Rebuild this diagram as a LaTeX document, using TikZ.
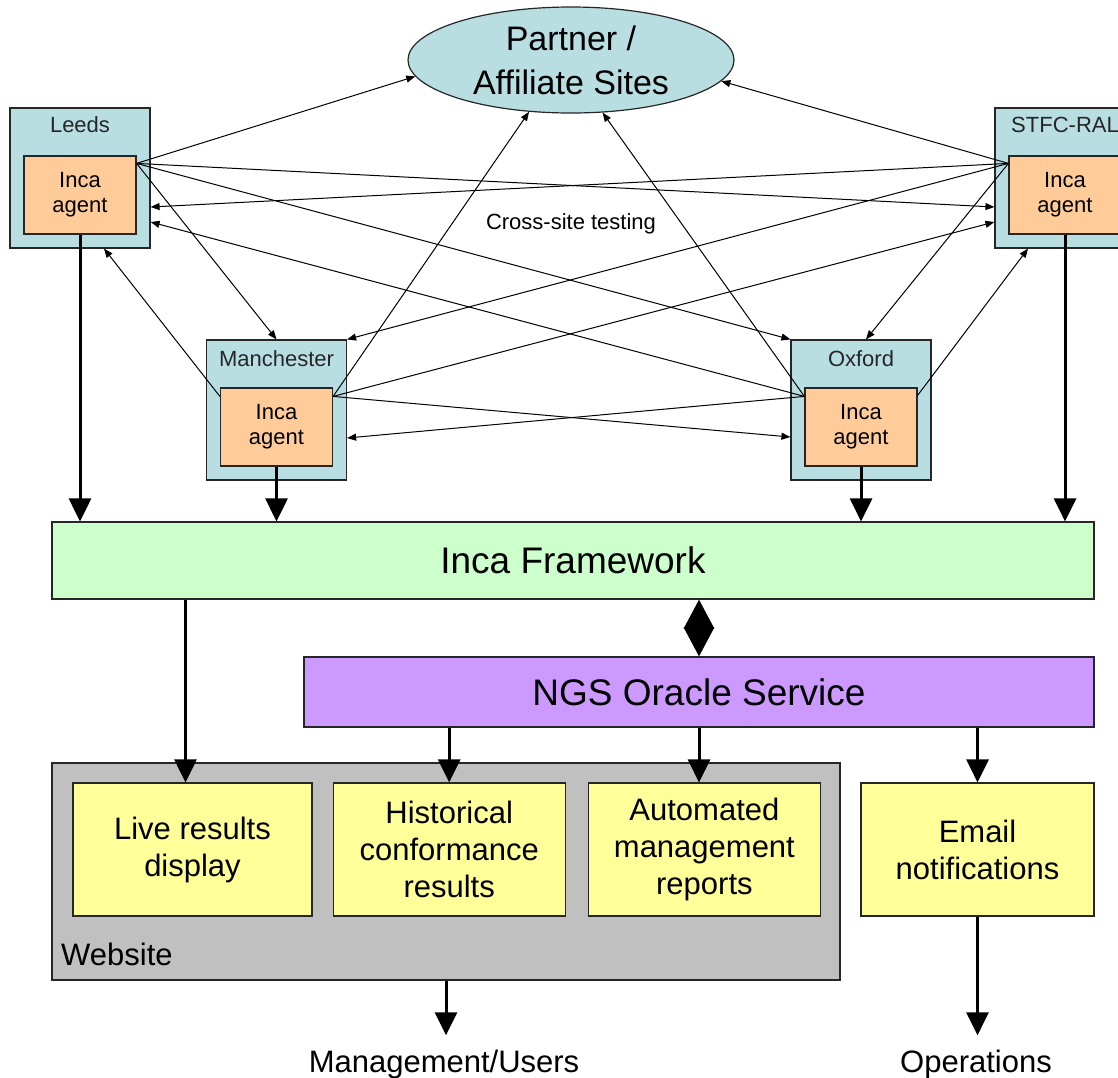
\documentclass[tikz,border=0pt]{standalone}
\usepackage{fontspec}
\setmainfont{Liberation Sans}
\usetikzlibrary{shapes.geometric, arrows.meta, positioning}

\definecolor{siteblue}{HTML}{B8DEE2}
\definecolor{agentorange}{HTML}{FFCC99}
\definecolor{fwgreen}{HTML}{CCFFCC}
\definecolor{ngspurple}{HTML}{CC99FF}
\definecolor{outyellow}{HTML}{FFFF99}
\definecolor{webgray}{HTML}{C0C0C0}

\begin{document}
\begin{tikzpicture}[
    x=1pt, y=-1pt,
    site/.style={rectangle, draw=black!85, line width=1.2pt, fill=siteblue, minimum width=140pt, minimum height=140pt, inner sep=0pt},
    agent/.style={rectangle, draw=black!85, line width=1.2pt, fill=agentorange, minimum width=112pt, minimum height=78pt, inner sep=0pt, align=center, font=\fontsize{22}{25}\selectfont},
    sitename/.style={anchor=base, inner sep=0pt, font=\fontsize{22}{25}\selectfont, text=black!85},
    layer/.style={rectangle, draw=black!85, line width=1.2pt, inner sep=0pt, font=\fontsize{37}{44}\selectfont},
    output/.style={rectangle, draw=black!85, line width=1.2pt, fill=outyellow, minimum width=232pt, minimum height=133pt, inner sep=0pt, align=center, font=\fontsize{31}{37}\selectfont},
    sink/.style={anchor=base, inner xsep=0pt, inner ysep=14pt, font=\fontsize{31}{36}\selectfont},
    link/.style={-{Triangle[length=9pt, width=7pt]}, line width=1pt},
    feed/.style={-{Triangle[length=23pt, width=22pt]}, line width=3pt}
]
    \useasboundingbox (0,0) rectangle (1118,1077);
    \clip (0,0) rectangle (1118,1077);

    % Partner sites
    \node[ellipse, draw=black!85, line width=1.2pt, fill=siteblue, minimum width=326pt, minimum height=106pt, inner sep=0pt, align=center, font=\fontsize{34}{44}\selectfont] (partner) at (571,60) {Partner /\\Affiliate Sites};

    % Sites with their agents
    \node[site] (leeds) at (80,178) {};
    \node[agent, above=14pt of leeds.south] (leedsagent) {Inca\\agent};
    \node[sitename] (leedsname) at ([yshift=-25pt]leeds.north) {Leeds};

    \node[site] (stfc) at (1065,178) {};
    \node[agent, above=14pt of stfc.south] (stfcagent) {Inca\\agent};
    \node[sitename] (stfcname) at ([yshift=-25pt]stfc.north) {STFC-RAL};

    \node[site] (manchester) at (276.5,410) {};
    \node[agent, above=14pt of manchester.south] (mancagent) {Inca\\agent};
    \node[sitename] (mancname) at ([yshift=-27pt]manchester.north) {Manchester};

    \node[site] (oxford) at (861,410) {};
    \node[agent, above=14pt of oxford.south] (oxfagent) {Inca\\agent};
    \node[sitename] (oxfname) at ([yshift=-27pt]oxford.north) {Oxford};

    \node[font=\fontsize{22}{25}\selectfont] (crosslabel) at (571,224) {Cross-site testing};

    % Framework and service
    \node[layer, fill=fwgreen, minimum width=1042pt, minimum height=77pt] (framework) at (573,560.5) {Inca Framework};
    \node[layer, fill=ngspurple, minimum width=790pt, minimum height=70pt] (ngs) at (699,692) {NGS Oracle Service};

    % Outputs
    \node[rectangle, draw=black!85, line width=1.2pt, fill=webgray, minimum width=788pt, minimum height=217pt] (website) at (446,871.5) {};
    \node[anchor=base west, inner sep=0pt, font=\fontsize{31}{36}\selectfont] (weblabel) at (61,965) {Website};
    \node[output, minimum width=239pt] (live) at (192.5,849.5) {Live results\\display};
    \node[output, right=20pt of live] (history) {Historical\\conformance\\results};
    \node[output, right=22pt of history] (reports) {Automated\\management\\reports};
    \node[output, minimum width=233pt] (email) at (977.5,849.5) {Email\\notifications};

    \node[sink] (users) at (444,1072) {Management/Users};
    \node[sink] (ops) at (976,1072) {Operations};

    % Cross-site testing links
    \coordinate (leedsout) at ([yshift=-8pt]leedsagent.north east);
    \coordinate (stfcout) at ([yshift=-8pt]stfcagent.north west);
    \coordinate (mancwest) at ([yshift=-9pt]mancagent.north west);
    \coordinate (manceast) at ([yshift=-9pt]mancagent.north east);
    \coordinate (oxfwest) at ([yshift=-9pt]oxfagent.north west);
    \coordinate (oxfeast) at ([yshift=-8pt]oxfagent.north east);

    \draw[link] (leedsout) -- (partner.186);
    \draw[link] (leedsout) -- ([yshift=-29pt]stfc.west);
    \draw[link] (leedsout) -- (manchester.north);
    \draw[link] (leedsout) -- (oxford.north west);

    \draw[link] (stfcout) -- (partner.352);
    \draw[link] (stfcout) -- ([yshift=-29pt]leeds.east);
    \draw[link] (stfcout) -- (manchester.north east);
    \draw[link] (stfcout) -- ([xshift=5pt]oxford.north);

    \draw[link] (mancwest) -- ([xshift=24pt]leeds.south);
    \draw[link] (manceast) -- (partner.231);
    \draw[link] (manceast) -- ([yshift=-44pt]stfc.west);
    \draw[link] (manceast) -- ([yshift=-27pt]oxford.west);

    \draw[link] (oxfwest) -- (partner.301);
    \draw[link] (oxfwest) -- ([yshift=-44pt]leeds.east);
    \draw[link] (oxfwest) -- ([yshift=-28pt]manchester.east);
    \draw[link] (oxfeast) -- ([xshift=-37pt]stfc.south);

    % Agents report to the framework
    \draw[feed] (leedsagent.south) -- (leedsagent.south |- framework.north);
    \draw[feed] (mancagent.south) -- (mancagent.south |- framework.north);
    \draw[feed] (oxfagent.south) -- (oxfagent.south |- framework.north);
    \draw[feed] (stfcagent.south) -- (stfcagent.south |- framework.north);

    % Framework, service and outputs
    \draw[line width=3pt, {Triangle[length=29pt, width=30pt]}-{Triangle[length=29pt, width=30pt]}] (ngs.north |- framework.south) -- (ngs.north);
    \draw[feed] ([xshift=-7pt]live.north |- framework.south) -- ([xshift=-7pt]live.north);
    \draw[feed] (history.north |- ngs.south) -- (history.north);
    \draw[feed] (ngs.south) -- (ngs.south |- reports.north);
    \draw[feed] (email.north |- ngs.south) -- (email.north);
    \draw[feed] (website.south) -- (website.south |- users.north);
    \draw[feed] (email.south) -- (email.south |- ops.north);

\end{tikzpicture}
\end{document}
